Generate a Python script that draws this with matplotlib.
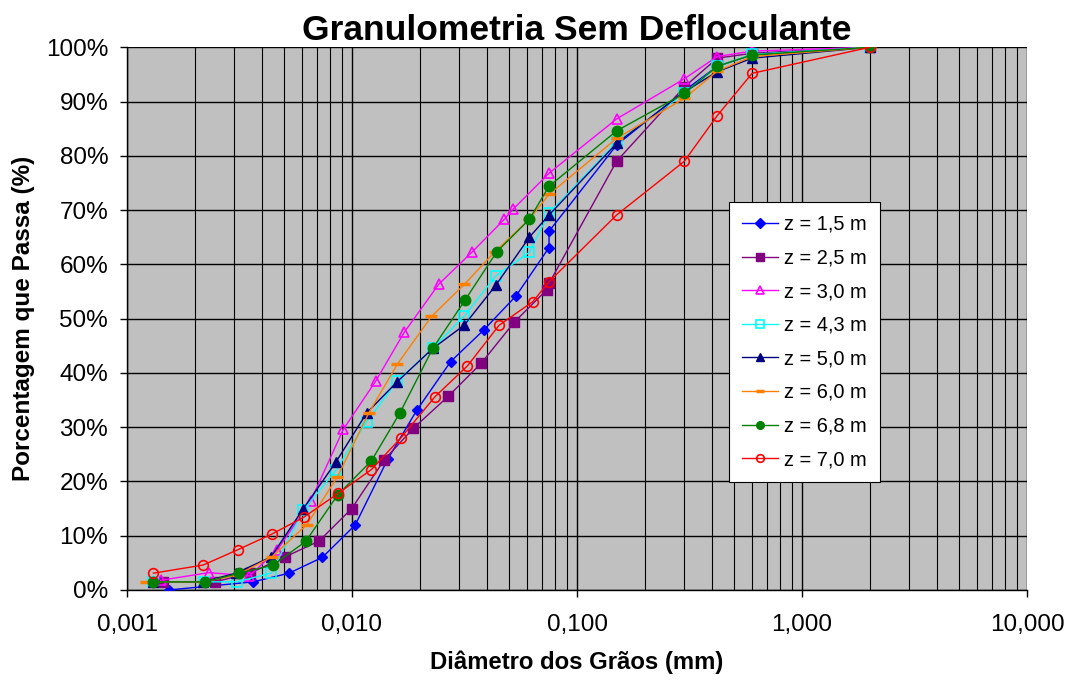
import matplotlib
matplotlib.use("Agg")
import matplotlib.pyplot as plt
from matplotlib.ticker import FixedLocator, FuncFormatter, LogLocator, NullFormatter

plt.rcParams['font.family'] = ['Liberation Sans', 'DejaVu Sans']

title = "Granulometria Sem Defloculante"
xlabel = "Diâmetro dos Grãos (mm)"
ylabel = "Porcentagem que Passa (%)"

d_15 = [0.00153, 0.00364, 0.00525, 0.00738, 0.01034, 0.01441, 0.01939, 0.02746, 0.0387, 0.0536, 0.0751, 0.0751, 0.150, 0.300, 0.420, 0.600, 2.000]
p_15 = [0.0, 1.5, 3.1, 6.0, 12.0, 24.1, 33.1, 42.1, 48.0, 54.2, 63.1, 66.1, 82.0, 92.0, 96.5, 98.6, 100.0]

d_25 = [0.00145, 0.00246, 0.00352, 0.00504, 0.00713, 0.00997, 0.01392, 0.01874, 0.02679, 0.03757, 0.0525, 0.0733, 0.0751, 0.150, 0.300, 0.420, 0.600, 2.000]
p_25 = [1.5, 1.5, 3.1, 6.1, 9.0, 15.0, 24.0, 29.8, 35.7, 41.8, 49.3, 55.3, 56.5, 79.0, 92.7, 98.0, 98.9, 100.0]

d_30 = [0.00141, 0.00232, 0.00350, 0.00466, 0.00655, 0.00915, 0.01275, 0.01708, 0.02436, 0.03404, 0.04753, 0.05212, 0.0751, 0.150, 0.300, 0.420, 0.600, 2.000]
p_30 = [1.8, 3.2, 2.6, 7.4, 16.4, 29.6, 38.5, 47.5, 56.4, 62.2, 68.3, 70.2, 76.8, 86.8, 94.2, 98.3, 99.3, 100.0]

d_43 = [0.00130, 0.00220, 0.00307, 0.00437, 0.00608, 0.00849, 0.01161, 0.0159, 0.02284, 0.03155, 0.04365, 0.06137, 0.0751, 0.150, 0.300, 0.420, 0.600, 2.000]
p_43 = [1.5, 1.5, 1.5, 3.1, 14.7, 22.1, 31.0, 38.5, 44.5, 50.5, 57.9, 62.2, 69.4, 82.5, 91.5, 96.5, 98.7, 100.0]

d_50 = [0.00130, 0.00218, 0.00305, 0.00437, 0.00608, 0.00849, 0.01161, 0.0159, 0.02284, 0.03155, 0.04365, 0.0614, 0.0751, 0.150, 0.300, 0.420, 0.600, 2.000]
p_50 = [1.5, 1.5, 3.1, 6.1, 15.0, 23.6, 32.6, 38.4, 44.5, 48.8, 56.2, 65.0, 69.1, 82.3, 91.8, 95.5, 98.0, 100.0]

d_60 = [0.00122, 0.00220, 0.00310, 0.00440, 0.00629, 0.00860, 0.0119, 0.0159, 0.02255, 0.03155, 0.0431, 0.0614, 0.0751, 0.150, 0.300, 0.420, 0.600, 2.000]
p_60 = [1.5, 1.5, 2.8, 6.1, 12.0, 20.8, 32.7, 41.6, 50.4, 56.3, 62.3, 68.3, 72.9, 83.2, 90.6, 95.6, 98.3, 100.0]

d_68 = [0.00131, 0.00222, 0.00316, 0.00447, 0.00624, 0.00863, 0.0122, 0.01636, 0.02284, 0.03178, 0.04397, 0.0614, 0.0751, 0.150, 0.300, 0.420, 0.600, 2.000]
p_68 = [1.5, 1.5, 3.1, 4.6, 9.0, 17.5, 23.8, 32.7, 44.5, 53.4, 62.3, 68.3, 74.4, 84.6, 91.5, 96.5, 98.6, 100.0]

d_70 = [0.00131, 0.00218, 0.00310, 0.00440, 0.00610, 0.00868, 0.0122, 0.01655, 0.02336, 0.0326, 0.0451, 0.0635, 0.0751, 0.150, 0.300, 0.420, 0.600, 2.000]
p_70 = [3.1, 4.6, 7.4, 10.3, 13.4, 17.8, 22.2, 28.1, 35.6, 41.3, 48.8, 53.1, 56.8, 69.1, 79.0, 87.4, 95.2, 100.0]

labels = ["z = 1,5 m", "z = 2,5 m", "z = 3,0 m", "z = 4,3 m", "z = 5,0 m", "z = 6,0 m", "z = 6,8 m", "z = 7,0 m"]
series = [(d_15, p_15), (d_25, p_25), (d_30, p_30), (d_43, p_43), (d_50, p_50), (d_60, p_60), (d_68, p_68), (d_70, p_70)]
styles = [
    dict(color='#0000FF', marker='D', ms=5.5, mfc='#0000FF', mec='#0000FF'),
    dict(color='#800080', marker='s', ms=7, mfc='#800080', mec='#800080'),
    dict(color='#FF00FF', marker='^', ms=7, mfc='none', mec='#FF00FF', mew=1.2),
    dict(color='#00FFFF', marker='s', ms=7, mfc='none', mec='#00FFFF', mew=1.2),
    dict(color='#000080', marker='^', ms=7.5, mfc='#000080', mec='#000080'),
    dict(color='#FF7F00', marker='_', ms=9, mfc='#FF7F00', mec='#FF7F00', mew=2.5),
    dict(color='#008000', marker='o', ms=7.5, mfc='#008000', mec='#008000'),
    dict(color='#FF0000', marker='o', ms=7, mfc='none', mec='#FF0000', mew=1.2),
]

fig = plt.figure(figsize=(10.73, 6.84), dpi=100)
ax = fig.add_axes([127/1073, 94/684, 900/1073, 542.7/684])
ax.set_facecolor('#C0C0C0')

for (d, p), lab, st in zip(series, labels, styles):
    ax.plot(d, p, lw=1.0, label=lab, zorder=3, **st)

ax.set_xscale('log')
ax.set_xlim(0.001, 10)
ax.set_ylim(0, 100)

xt = [0.001, 0.01, 0.1, 1, 10]
xtl = ["0,001", "0,010", "0,100", "1,000", "10,000"]
ax.xaxis.set_major_locator(FixedLocator(xt))
ax.set_xticklabels(xtl)
ax.xaxis.set_minor_locator(LogLocator(base=10, subs=range(2, 10), numticks=20))
ax.xaxis.set_minor_formatter(NullFormatter())
ax.set_yticks(range(0, 101, 10))
ax.yaxis.set_major_formatter(FuncFormatter(lambda v, pos: f"{int(v)}%"))

ax.grid(True, which='major', axis='both', color='black', lw=1.0, zorder=1)
ax.grid(True, which='minor', axis='x', color='black', lw=0.8, zorder=1)
ax.set_axisbelow(True)

ax.tick_params(axis='both', which='major', labelsize=17.5, length=5, width=1.0,
               direction='out', color='black')
ax.tick_params(axis='x', which='minor', length=0)
ax.tick_params(axis='x', pad=12)
ax.tick_params(axis='y', pad=8.5)
for s in ['top', 'right']:
    ax.spines[s].set_visible(False)
for s in ['left', 'bottom']:
    ax.spines[s].set_linewidth(1.0)

ax.set_title(title, fontsize=25.5, fontweight='bold', pad=5)
ax.set_xlabel(xlabel, fontsize=17.2, fontweight='bold', labelpad=11)
ax.set_ylabel(ylabel, fontsize=17.5, fontweight='bold', labelpad=8)

leg = ax.legend(loc='upper left', bbox_to_anchor=((729-127)/900, (590-202)/542.7),
                fontsize=14.4, frameon=True, fancybox=False, edgecolor='black',
                framealpha=1, borderpad=0.65, labelspacing=0.73, handlelength=1.8,
                handletextpad=0.3, borderaxespad=0)
leg.get_frame().set_linewidth(0.8)
for h in leg.legend_handles:
    h.set_markersize(5.5)

fig.savefig("out.png", dpi=100)
